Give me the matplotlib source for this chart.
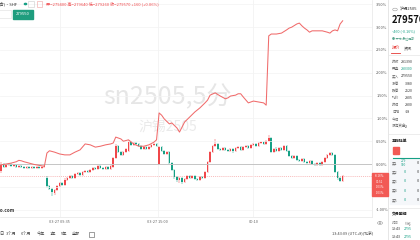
import matplotlib.pyplot as plt
from matplotlib.patches import Rectangle, Circle
from matplotlib.lines import Line2D

plt.rcParams['font.family'] = ['Noto Sans CJK SC', 'DejaVu Sans']

# sn2505 5-minute bars (yuan/ton)
opens = [
    279750, 280030, 279910, 279990, 280030, 279950, 279990, 279910, 279950, 279910,
    279870, 279910, 279870, 279910, 279870, 279910, 279870, 279910,
    279470, 279150, 279030, 278870, 278990, 279150, 279270, 279190, 279390, 279470,
    279550, 279470, 279630, 279670, 279590, 279710, 279750, 279710, 279790, 279870,
    279830, 279950, 279870, 279830, 279910, 279830, 279910, 280270, 280750, 280510,
    280390, 280510, 280550, 280910, 280790, 280870, 280830, 280750, 280630, 280710,
    280630, 280710, 280790, 280830,
    280030, 280710, 280550, 280430, 280510, 280070, 279790, 279510, 279390, 279470,
    279310, 279430, 279550, 279470, 279550, 279430, 279390, 279510, 279470, 279710,
    280110, 280510, 280750, 280830, 280630, 280590, 280670, 280590, 280550, 280630,
    280550, 280670, 280710, 280590, 280710, 280750, 280670, 280790, 280830, 280750,
    280870, 280910, 280830, 280950, 281070, 280510, 280630, 280550, 280670, 280590,
    280750, 280550, 280350, 280270, 280350, 280190, 280150, 280230, 280110, 280070,
    280150, 280030, 279990, 280070, 279990, 280110, 280270, 280390, 280470, 280390,
    279710, 279470, 279350]
closes = [
    280030, 279910, 279990, 280030, 279950, 279990, 279910, 279950, 279910, 279870,
    279910, 279870, 279910, 279870, 279910, 279870, 279910, 279950,
    279150, 279030, 278910, 278990, 279150, 279270, 279190, 279390, 279470, 279550,
    279470, 279630, 279670, 279590, 279710, 279750, 279710, 279790, 279870, 279830,
    279950, 279870, 279830, 279910, 279830, 279950, 280270, 280750, 280510, 280390,
    280510, 280630, 280910, 280790, 280870, 280830, 280750, 280630, 280710, 280630,
    280710, 280790, 280830, 280750,
    280710, 280550, 280430, 280510, 280070, 279790, 279510, 279390, 279470, 279310,
    279430, 279550, 279470, 279550, 279430, 279390, 279510, 279470, 279710, 280110,
    280510, 280750, 280830, 280630, 280590, 280670, 280590, 280550, 280630, 280550,
    280670, 280710, 280590, 280710, 280750, 280670, 280790, 280830, 280750, 280870,
    280910, 280830, 280950, 281070, 280510, 280630, 280550, 280670, 280590, 280750,
    280550, 280350, 280270, 280350, 280190, 280150, 280230, 280110, 280070, 280150,
    280030, 279990, 280070, 279990, 280110, 280270, 280390, 280470, 280390, 279710,
    279470, 279350, 279570]
highs = [
    280110, 280070, 280030, 280070, 280070, 280030, 280030, 279990, 279990, 279950,
    279950, 279950, 279950, 279950, 279950, 279950, 279950, 279990,
    279550, 279190, 279070, 279030, 279190, 279310, 279310, 279470, 279510, 279590,
    279590, 279670, 279710, 279710, 279750, 279790, 279790, 279830, 279910, 279910,
    279990, 279990, 279910, 279950, 279950, 279990, 280310, 280830, 280790, 280550,
    280550, 280670, 280990, 280950, 280910, 280910, 280870, 280790, 280750, 280750,
    280750, 280830, 280870, 280870,
    280750, 280750, 280590, 280550, 280550, 280110, 279830, 279550, 279510, 279510,
    279470, 279590, 279590, 279590, 279590, 279470, 279550, 279550, 279750, 280150,
    280550, 280790, 281030, 280870, 280670, 280710, 280710, 280630, 280670, 280670,
    280710, 280750, 280750, 280750, 280790, 280790, 280830, 280870, 280870, 280910,
    280950, 280950, 280990, 281190, 281110, 280670, 280710, 280710, 280710, 280790,
    280790, 280590, 280390, 280390, 280390, 280230, 280270, 280270, 280150, 280190,
    280190, 280070, 280110, 280110, 280150, 280310, 280430, 280510, 280510, 280430,
    279750, 279510, 279590]
lows = [
    279670, 279870, 279870, 279950, 279910, 279910, 279870, 279870, 279870, 279830,
    279830, 279830, 279830, 279830, 279830, 279830, 279830, 279870,
    279070, 278990, 278750, 278790, 278950, 279110, 279150, 279150, 279350, 279430,
    279430, 279430, 279590, 279550, 279550, 279670, 279670, 279670, 279750, 279790,
    279790, 279830, 279790, 279790, 279790, 279790, 279870, 280230, 280470, 280350,
    280350, 280470, 280510, 280750, 280750, 280790, 280710, 280590, 280590, 280590,
    280590, 280670, 280750, 280710,
    279990, 280510, 280390, 280390, 280030, 279750, 279430, 279310, 279270, 279230,
    279270, 279390, 279430, 279430, 279390, 279350, 279350, 279430, 279430, 279670,
    280070, 280470, 280710, 280590, 280550, 280550, 280550, 280510, 280510, 280470,
    280510, 280630, 280550, 280550, 280670, 280630, 280630, 280750, 280710, 280710,
    280830, 280790, 280790, 280910, 280470, 280470, 280510, 280510, 280550, 280550,
    280510, 280310, 280230, 280230, 280150, 280110, 280110, 280070, 280030, 280030,
    279990, 279950, 279950, 279950, 279950, 280070, 280230, 280350, 280350, 279670,
    279390, 279310, 279310]

# comparison series, % change
cmp_idx = [0, 2, 4, 6, 7, 8, 9, 11, 13, 15, 17, 18, 19, 21, 23, 25, 27, 29, 31, 33,
           35, 37, 39, 41, 43, 44, 45, 47, 48, 50, 52, 54, 56, 58, 60, 61, 62, 63, 64, 66,
           67, 69, 70, 72, 74, 76, 78, 80, 81, 82, 84, 86, 88, 89, 90, 92, 93, 94, 95, 97,
           99, 101, 103, 104, 105, 106, 108, 110, 112, 113, 114, 116, 117, 118, 119, 120,
           121, 122, 124, 126, 128, 129, 130, 131, 132, 133, 134]
cmp_pct = [-0.02, 0.0, 0.02, 0.05, 0.08, 0.07, 0.05, 0.02, -0.01, -0.03, -0.05, 0.24,
           0.29, 0.26, 0.22, 0.20, 0.20, 0.26, 0.31, 0.44, 0.42, 0.37, 0.39, 0.42, 0.44,
           0.46, 0.59, 0.55, 0.50, 0.53, 0.44, 0.39, 0.39, 0.42, 0.48, 0.53, 1.12, 1.07,
           0.99, 0.88, 0.90, 0.79, 0.70, 0.92, 1.03, 1.14, 1.23, 1.34, 1.40, 1.51, 1.56,
           1.49, 1.43, 1.45, 1.49, 1.51, 1.54, 1.54, 1.47, 1.34, 1.38, 1.36, 1.34, 1.29,
           2.81, 2.85, 2.85, 2.87, 2.94, 2.98, 3.00, 3.07, 3.09, 3.03, 2.98, 2.94, 2.89,
           2.92, 2.92, 2.92, 2.89, 2.87, 2.92, 2.94, 2.92, 3.07, 3.14]

pct_ticks = [-1.0, -0.5, 0.0, 0.5, 1.0, 1.5, 2.0, 2.5, 3.0, 3.5]
time_ticks = [23, 61.5, 99]
time_labels = ['03-27 09:35', '03-27 15:00', '00:10']
last_price = 279570

W, H = 420, 240
fig = plt.figure(figsize=(4.2, 2.4), dpi=100)

def put(x, y, s, **kw):
    kw.setdefault('va', 'center')
    fig.text(x / W, 1 - y / H, s, **kw)

def hline(x0, x1, y, c='#e6e6e6', lw=0.5):
    fig.add_artist(Line2D([x0 / W, x1 / W], [1 - y / H] * 2, color=c, lw=lw))

ax = fig.add_axes([0, 23 / H, 372 / W, 217 / H])
ax.set_xlim(-0.4, 145.5)
ax.set_ylim(277910, 286590)

up_col = '#f0474a'
dn_col = '#16a085'
xs = list(range(len(closes)))
cols = [up_col if c >= o else dn_col for o, c in zip(opens, closes)]
bottoms = [min(o, c) for o, c in zip(opens, closes)]
heights = [max(abs(c - o), 20) for o, c in zip(opens, closes)]
ax.vlines(xs, lows, highs, colors=cols, lw=0.35, zorder=2)
ax.bar(xs, heights, bottom=bottoms, width=0.62, color=cols, lw=0, zorder=3)
ax.axhline(last_price, color='#f5a3a3', lw=0.5, ls=(0, (1.5, 1.5)), zorder=1)

ax.set_xticks(time_ticks)
ax.set_xticklabels(time_labels, fontsize=2.8, color='#666666')
ax.tick_params(axis='x', length=0, pad=2)
ax.set_yticks([])
ax.grid(axis='x', color='#f0f0f0', lw=0.5)
for s in ['top', 'left']:
    ax.spines[s].set_visible(False)
ax.spines['bottom'].set_color('#e6e6e6')
ax.spines['bottom'].set_linewidth(0.5)
ax.spines['right'].set_color('#e6e6e6')
ax.spines['right'].set_linewidth(0.5)

# watermark
ax.text(167 / W, 1 - 97 / H, 'sn2505,5分', transform=fig.transFigure, fontsize=18,
        color='#e6e6e6', ha='center', va='center', zorder=0)
ax.text(168 / W, 1 - 127 / H, '沪锡2505', transform=fig.transFigure, fontsize=10,
        color='#eaeaea', ha='center', va='center', zorder=0)

ax2 = ax.twinx()
ax2.set_ylim(-1.162, 3.596)
ax2.plot(cmp_idx, cmp_pct, color='#f06b6b', lw=0.75, zorder=4)
ax2.axhline(0, color='#bdbdbd', lw=0.6, zorder=1)
ax2.set_yticks(pct_ticks)
# the -0.50% label sits under the price tag in the original
ax2.set_yticklabels(['' if v == -0.5 else '%.2f%%' % v for v in pct_ticks],
                    fontsize=2.8, color='#555555')
ax2.tick_params(axis='y', length=0, pad=3)
ax2.grid(axis='y', color='#f3f3f3', lw=0.5)
ax2.set_axisbelow(True)
for s in ax2.spines.values():
    s.set_visible(False)

# price tag box
fig.add_artist(Rectangle((372 / W, 1 - 196 / H), 16 / W, 23 / H,
                         transform=fig.transFigure, color='#f25a55', zorder=5))
for yy, s in zip([176, 181.7, 187.4, 193.1], ['-0.16%', '01:51', '1.03%', '1.03%']):
    put(380, yy, s, fontsize=2.1, color='white', ha='center', zorder=6)

# top legend
put(-1, 4, '(合)·SHF', fontsize=3, color='#333333')
fig.add_artist(Circle((25.5 / W, 1 - 4 / H), 1.1 / W, transform=fig.transFigure, color='#16a085'))
fig.add_artist(Rectangle((28.5 / W, 1 - 6.5 / H), 5 / W, 5 / H, transform=fig.transFigure,
                         fill=False, ec='#cccccc', lw=0.4))
fig.add_artist(Rectangle((37 / W, 1 - 6.5 / H), 5 / W, 5 / H, transform=fig.transFigure,
                         fill=False, ec='#f0a0a0', lw=0.4))
put(46, 4, '开=279400 高=279640 低=279260 收=279570 +160 (+0.06%)', fontsize=3, color='#f0474a')
fig.add_artist(Rectangle((-1 / W, 1 - 18 / H), 12 / W, 8 / H, transform=fig.transFigure,
                         fill=False, ec='#dddddd', lw=0.4))
fig.add_artist(Rectangle((13 / W, 1 - 18.5 / H), 19.5 / W, 8.5 / H, transform=fig.transFigure,
                         color='#1f9d7e'))
put(22.7, 14.2, '279550', fontsize=3, color='white', ha='center')

put(-4, 211, 'nfo.com', fontsize=3.4, color='#333333', weight='bold')

# bottom bar
for xx, s in zip([-1, 6, 21, 37, 50, 61, 72], ['日', '3个月', '6个月', '今年', '1年', '5年', '全部']):
    put(xx, 234, s, fontsize=3, color='#444444')
fig.add_artist(Rectangle((89 / W, 1 - 237 / H), 5 / W, 5.5 / H, transform=fig.transFigure,
                         fill=False, ec='#555555', lw=0.4))
put(373, 234, '13:43:09 (UTC+8)(北京)', fontsize=2.8, color='#444444', ha='right')
fig.add_artist(Circle((380 / W, 1 - 223 / H), 2.5 / W, transform=fig.transFigure,
                      fill=False, ec='#999999', lw=0.4))
put(380, 223, 'A', fontsize=2.2, color='#666666', ha='center')

# right panel
fig.add_artist(Line2D([388 / W] * 2, [0, 1], color='#e2e2e2', lw=0.6))
fig.add_artist(Circle((395 / W, 1 - 9.5 / H), 2.3 / W, transform=fig.transFigure,
                      fill=False, ec='#999999', lw=0.4))
put(400, 9.5, '沪锡2505', fontsize=3, color='#333333')
put(392, 20, '279570', fontsize=6.8, color='#111111', weight='bold')
put(392, 31, '-460 (-0.16%)', fontsize=2.7, color='#16a085')
put(392, 38, '● 开市 最近更新', fontsize=2.2, color='#5aa58f')
put(392, 48, '报价', fontsize=3, color='#e53935')
put(404, 48, '资讯', fontsize=3, color='#555555')
hline(391, 400, 53, c='#e53935', lw=0.6)
hline(388, 420, 55)
rows = [('昨收', '281390', '#333333'), ('开盘', '280300', '#16a085'), ('买入', '279550', '#333333'),
        ('涨停', '3080', '#333333'), ('跌停', '2520', '#333333'), ('均价', '2805', '#333333'),
        ('昨结', '2800', '#333333'), ('日增', '-18', '#333333'), ('今结', '', '#333333'),
        ('沉淀资金', '2', '#333333')]
for k, (lab, val, c) in enumerate(rows):
    yy = 62 + k * 7.2
    put(392, yy, lab, fontsize=2.6, color='#666666')
    put(401 if k < 3 else 405, yy, val, fontsize=2.6, color=c)
hline(388, 420, 134)
put(392, 141, '五档挂单', fontsize=2.8, color='#222222', weight='bold')
fig.add_artist(Rectangle((393 / W, 1 - 154 / H), 6 / W, 7 / H, transform=fig.transFigure,
                         color='#f25a55'))
hline(393, 420, 157.5, c='#16a085', lw=0.8)
fig.add_artist(Rectangle((390 / W, 1 - 204 / H), 30 / W, 45 / H, transform=fig.transFigure,
                         color='#f5f7fa', zorder=0))
for k in range(5):
    yy = 163 + k * 9.2
    put(392, yy, '买%d' % (k + 1), fontsize=2.6, color='#666666')
    put(401 if k == 0 else 404, yy, '279\n950' if k == 0 else '0', fontsize=2.3 if k == 0 else 2.8,
        color='#16a085', linespacing=0.9)
    put(417, yy, '0', fontsize=2.8, color='#333333')
hline(388, 420, 208)
put(392, 215, '交易明细', fontsize=2.8, color='#222222', weight='bold')
put(392, 223, '时间', fontsize=2.4, color='#888888')
put(405, 223, '价格', fontsize=2.4, color='#888888')
for yy in [229.5, 236.5]:
    put(392, yy, '13:43', fontsize=2.6, color='#333333')
    put(404, yy, '2795', fontsize=2.6, color='#16a085')

fig.savefig('out.png', dpi=100)
